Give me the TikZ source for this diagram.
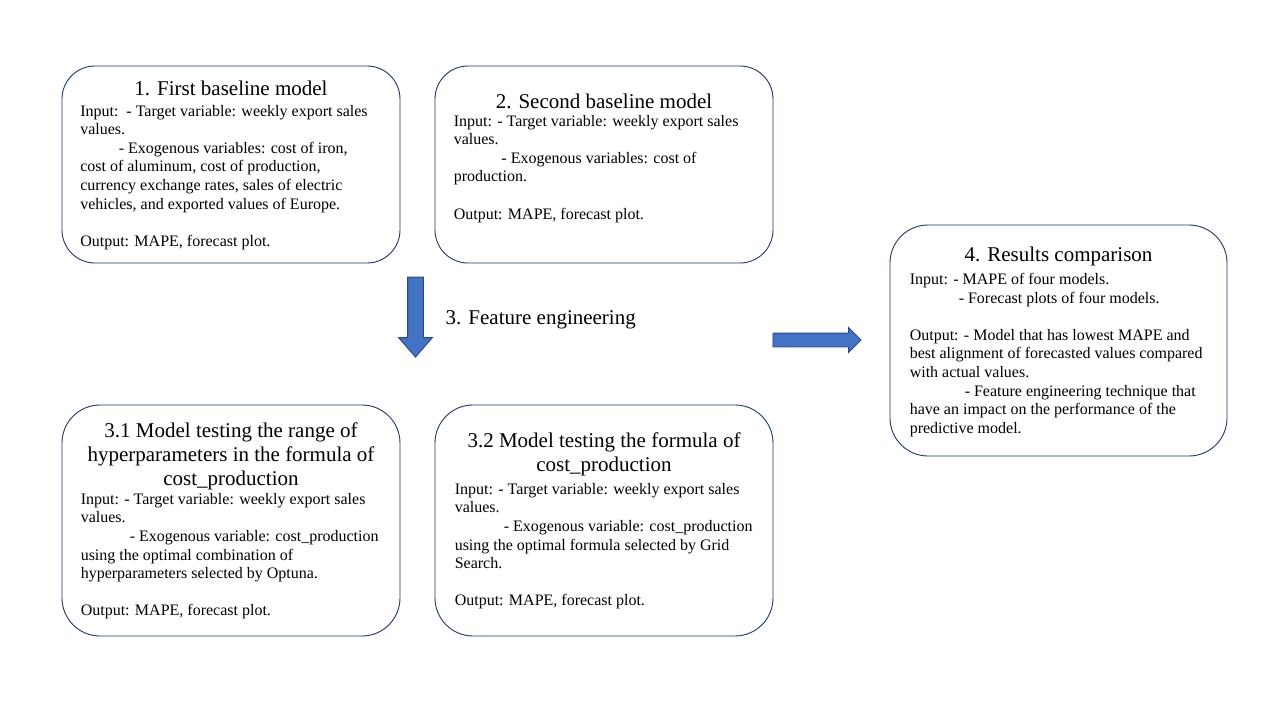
\documentclass[tikz,border=0pt]{standalone}
\usepackage{fontspec}
\setmainfont{Liberation Serif}
\usetikzlibrary{positioning}
\usetikzlibrary{shapes.arrows}

\definecolor{cardline}{HTML}{203864}
\definecolor{arrowfill}{HTML}{4472C4}
\definecolor{arrowline}{HTML}{2A4A80}

\tikzset{
    card/.style={draw=cardline, line width=0.9pt, inner sep=0pt},
    head/.style={inner sep=0pt, align=center, font=\fontsize{21}{24}\selectfont},
    body/.style={inner sep=0pt, align=left, font=\fontsize{16}{18.6}\selectfont},
    blockarrow/.style={single arrow, draw=arrowline, fill=arrowfill, line width=0.9pt, inner xsep=0pt, outer sep=0pt},
}

\begin{document}
\begin{tikzpicture}[x=1pt, y=-1pt]
    \useasboundingbox (0,0) rectangle (1280,720);
    % the five rounded frames
    \foreach \n/\cx/\cy/\w/\h/\r in {base1/231/164.5/338/197/33, base2/604/164.5/338/197/33,
        range/231/520.5/338/231/38, formula/604/520.5/338/231/38, results/1058.5/340.5/337/231/38} {
        \node[card, minimum width=\w pt, minimum height=\h pt, rounded corners=\r pt] (\n) at (\cx,\cy) {};
    }

    % titles
    \node[head, below=14.7pt of base1.north] (base1head) {1. First baseline model};
    \node[head, below=28pt of base2.north] (base2head) {2. Second baseline model};
    \node[head, below=18.4pt of range.north] (rangehead) {3.1 Model testing the range of\\ hyperparameters in the formula of\\ cost\_production};
    \node[head, below=28.4pt of formula.north] (formulahead) {3.2 Model testing the formula of\\ cost\_production};
    \node[head, below=21.7pt of results.north] (resultshead) {4. Results comparison};

    % inputs and outputs
    \node[body, below right=39.2pt and 18.5pt of base1.north west] (base1body) {Input: \,- Target variable: weekly export sales\\ values.\\
        \hspace*{38.6pt}- Exogenous variables: cost of iron,\\ cost of aluminum, cost of production,\\
        currency exchange rates, sales of electric\\ vehicles, and exported values of Europe.\\[18.6pt]
        Output: MAPE, forecast plot.};
    \node[body, below right=49.2pt and 19pt of base2.north west] (base2body) {Input: - Target variable: weekly export sales\\ values.\\
        \hspace*{47.7pt}- Exogenous variables: cost of\\ production.\\[18.6pt]
        Output: MAPE, forecast plot.};
    \node[body, below right=88.5pt and 19pt of range.north west] (rangebody) {Input: - Target variable: weekly export sales\\ values.\\
        \hspace*{49pt}- Exogenous variable: cost\_production\\ using the optimal combination of\\
        hyperparameters selected by Optuna.\\[18.6pt]
        Output: MAPE, forecast plot.};
    \node[body, below right=78.5pt and 20pt of formula.north west] (formulabody) {Input: - Target variable: weekly export sales\\ values.\\
        \hspace*{49pt}- Exogenous variable: cost\_production\\ using the optimal formula selected by Grid\\
        Search.\\[18.6pt]
        Output: MAPE, forecast plot.};
    \node[body, below right=48.5pt and 20pt of results.north west] (resultsbody) {Input: - MAPE of four models.\\
        \hspace*{49pt}- Forecast plots of four models.\\[18.6pt]
        Output: - Model that has lowest MAPE and\\ best alignment of forecasted values compared\\
        with actual values.\\ \hspace*{55pt}- Feature engineering technique that\\
        have an impact on the performance of the\\ predictive model.};

    % block arrows
    \node[blockarrow, inner ysep=7.5pt, minimum height=80pt, minimum width=33pt, single arrow head extend=9pt,
        single arrow tip angle=82, rotate=-90] (downarrow) at (415.5,312.5) {};
    \node[head, right=30pt of downarrow.center, anchor=west, yshift=-7.5pt] (fetext) {3. Feature engineering};
    \node[blockarrow, inner ysep=6.5pt, minimum height=88pt, minimum width=24pt, single arrow head extend=5.5pt,
        single arrow tip angle=90] (rightarrow) at (813.5,340) {};
\end{tikzpicture}
\end{document}
